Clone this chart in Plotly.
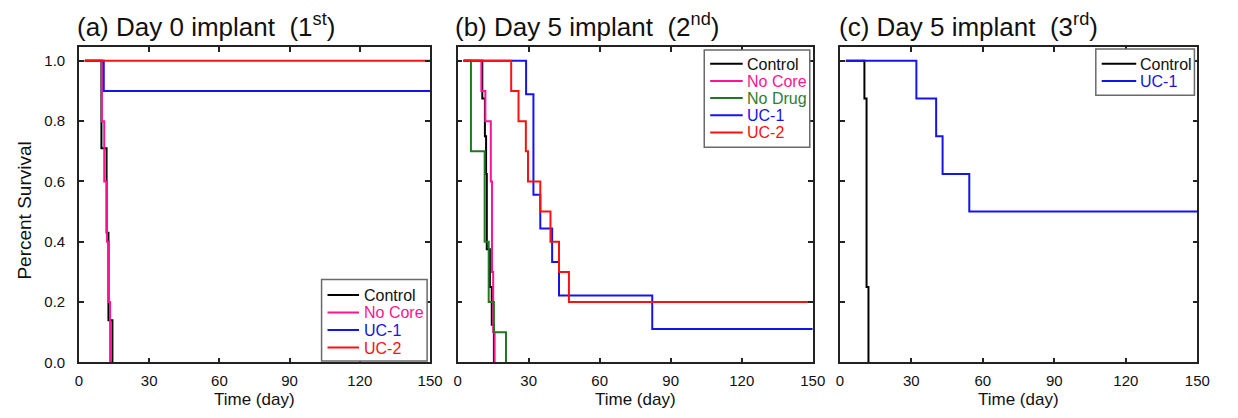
import plotly.graph_objects as go

W, H = 1238, 418
FONT = "Arial, Liberation Sans, sans-serif"

# ---------------- data ----------------
# Panel (a) Day 0 implant (1st)
a_control_t = [2.5, 9.6, 11.8, 12.6, 14.3]
a_control_s = [1.0, 0.71, 0.43, 0.14, 0.0]
a_nocore_t = [2.5, 9.8, 10.8, 12.0, 12.8, 13.3]
a_nocore_s = [1.0, 0.8, 0.6, 0.4, 0.2, 0.0]
a_uc1_t = [2.5, 10.6, 150]
a_uc1_s = [1.0, 0.9, 0.9]
a_uc2_t = [2.5, 150]
a_uc2_s = [1.0, 1.0]

# Panel (b) Day 5 implant (2nd)
b_control_t = [2.5, 10.4, 11.5, 12.0, 12.3, 13.6, 14.4, 15.3]
b_control_s = [1.0, 0.875, 0.75, 0.625, 0.375, 0.25, 0.125, 0.0]
b_nocore_t = [2.5, 10.0, 11.7, 14.0, 14.5, 15.0, 15.6]
b_nocore_s = [1.0, 0.9, 0.8, 0.6, 0.3, 0.1, 0.0]
b_nodrug_t = [2.5, 5.6, 11.4, 13.1, 15.3, 20.4]
b_nodrug_s = [1.0, 0.7, 0.4, 0.2, 0.1, 0.0]
b_uc1_t = [2.5, 28.9, 32.0, 34.9, 39.9, 42.8, 82.2, 150]
b_uc1_s = [1.0, 0.889, 0.556, 0.444, 0.333, 0.222, 0.111, 0.111]
b_uc2_t = [2.5, 22.6, 25.7, 28.8, 29.7, 34.9, 39.2, 42.8, 47.0, 150]
b_uc2_s = [1.0, 0.9, 0.8, 0.7, 0.6, 0.5, 0.4, 0.3, 0.2, 0.2]

# Panel (c) Day 5 implant (3rd)
c_control_t = [2.5, 10.3, 11.2, 12.0]
c_control_s = [1.0, 0.875, 0.25, 0.0]
c_uc1_t = [2.5, 32.1, 40.4, 43.1, 54.3, 150]
c_uc1_s = [1.0, 0.875, 0.75, 0.625, 0.5, 0.5]

x_ticks = [0, 30, 60, 90, 120, 150]
y_ticks = [0.0, 0.2, 0.4, 0.6, 0.8, 1.0]
y_ticklabels = ["0.0", "0.2", "0.4", "0.6", "0.8", "1.0"]

titles = ["(a) Day 0 implant\u00a0 (1<sup>st</sup>)",
          "(b) Day 5 implant\u00a0 (2<sup>nd</sup>)",
          "(c) Day 5 implant\u00a0 (3<sup>rd</sup>)"]
x_title = "Time (day)"
y_title = "Percent Survival"

COL = {"Control": "#000000", "No Core": "#FF1493", "No Drug": "#1F7A1F",
       "UC-1": "#1414F0", "UC-2": "#FF1010"}
TXTCOL = {"Control": "#111111", "No Core": "#FF1493", "No Drug": "#2E7D32",
          "UC-1": "#1414E0", "UC-2": "#FF1010"}

panels = [
    [("Control", a_control_t, a_control_s), ("No Core", a_nocore_t, a_nocore_s),
     ("UC-1", a_uc1_t, a_uc1_s), ("UC-2", a_uc2_t, a_uc2_s)],
    [("Control", b_control_t, b_control_s), ("No Core", b_nocore_t, b_nocore_s),
     ("No Drug", b_nodrug_t, b_nodrug_s), ("UC-1", b_uc1_t, b_uc1_s),
     ("UC-2", b_uc2_t, b_uc2_s)],
    [("Control", c_control_t, c_control_s), ("UC-1", c_uc1_t, c_uc1_s)],
]

# ---------------- layout geometry (pixels) ----------------
xdom_px = [(76, 432), (460, 820), (847.5, 1210)]
ytop, ybot = 48, 369.5
y_one = 62  # pixel row of survival 1.0
ydom = [(H - ybot) / H, (H - ytop) / H]
# legend boxes: (left, top, right, bottom), first row center, row step, line x0, line x1, text x
legend_geo = [
    (322, 285, 429, 368, 300.7, 17.9, 328, 360, 363),
    (710, 51, 817, 150, 65.0, 17.5, 716, 749, 751),
    (1107, 50, 1207, 97, 65.0, 17.7, 1113, 1148, 1150),
]
title_x = [72, 455, 845]


def px(xp):
    return xp / W


def py(yp):
    return 1 - yp / H


fig = go.Figure()
for i, series in enumerate(panels):
    xa = "x" if i == 0 else f"x{i+1}"
    ya = "y" if i == 0 else f"y{i+1}"
    for name, t, s in series:
        fig.add_trace(go.Scatter(
            x=t, y=s, mode="lines", line=dict(color=COL[name], width=2, shape="hv"),
            name=name, xaxis=xa, yaxis=ya, showlegend=False, hoverinfo="x+y+name"))

axis_common = dict(showline=True, linecolor="#222", linewidth=1.6, mirror="ticks",
                   ticks="inside", ticklen=5, tickwidth=1.5, tickcolor="#222",
                   showgrid=False, zeroline=False,
                   tickfont=dict(family=FONT, size=15, color="#111"))

shapes = []
annotations = []
layout = dict(width=W, height=H, margin=dict(l=0, r=0, t=0, b=0),
              paper_bgcolor="white", plot_bgcolor="white", showlegend=False,
              font=dict(family=FONT, color="#111"))

for i in range(3):
    xs = "xaxis" if i == 0 else f"xaxis{i+1}"
    ys = "yaxis" if i == 0 else f"yaxis{i+1}"
    x0, x1 = xdom_px[i]
    layout[xs] = dict(axis_common, domain=[px(x0), px(x1)], range=[0, 150],
                      tickvals=x_ticks, anchor="y" if i == 0 else f"y{i+1}",
                      ticklabelstandoff=4)
    layout[ys] = dict(axis_common, domain=ydom,
                      range=[0, (ybot - ytop) / (ybot - y_one)],
                      tickvals=y_ticks, ticktext=y_ticklabels,
                      showticklabels=(i == 0),
                      anchor="x" if i == 0 else f"x{i+1}", ticklabelstandoff=9)
    # panel title
    annotations.append(dict(
        text=titles[i], x=px(title_x[i]), y=py(25.5), xref="paper", yref="paper",
        xanchor="left", yanchor="middle", showarrow=False,
        font=dict(family=FONT, size=26, color="#111")))
    # x axis title
    annotations.append(dict(
        text=x_title, x=px((x0 + x1) / 2), y=py(407), xref="paper", yref="paper",
        xanchor="center", yanchor="middle", showarrow=False,
        font=dict(family=FONT, size=17, color="#111")))
    # legend box
    L, T, R, B, r0, step, lx0, lx1, tx = legend_geo[i]
    shapes.append(dict(type="rect", xref="paper", yref="paper",
                       x0=px(L), x1=px(R), y0=py(B), y1=py(T),
                       line=dict(color="#6a6a6a", width=1.5), fillcolor="white",
                       layer="above"))
    for k, (name, _, _) in enumerate(panels[i]):
        yc = r0 + k * step
        shapes.append(dict(type="line", xref="paper", yref="paper",
                           x0=px(lx0), x1=px(lx1), y0=py(yc), y1=py(yc),
                           line=dict(color=COL[name], width=2), layer="above"))
        annotations.append(dict(
            text=name, x=px(tx), y=py(yc + 0.5), xref="paper", yref="paper",
            xanchor="left", yanchor="middle", showarrow=False,
            font=dict(family=FONT, size=16, color=TXTCOL[name])))

annotations.append(dict(
    text=y_title, x=px(21), y=py(215), xref="paper", yref="paper",
    xanchor="center", yanchor="middle", showarrow=False, textangle=-90,
    font=dict(family=FONT, size=19, color="#111")))

layout["shapes"] = shapes
layout["annotations"] = annotations
fig.update_layout(**layout)
fig.write_html("out.html")
